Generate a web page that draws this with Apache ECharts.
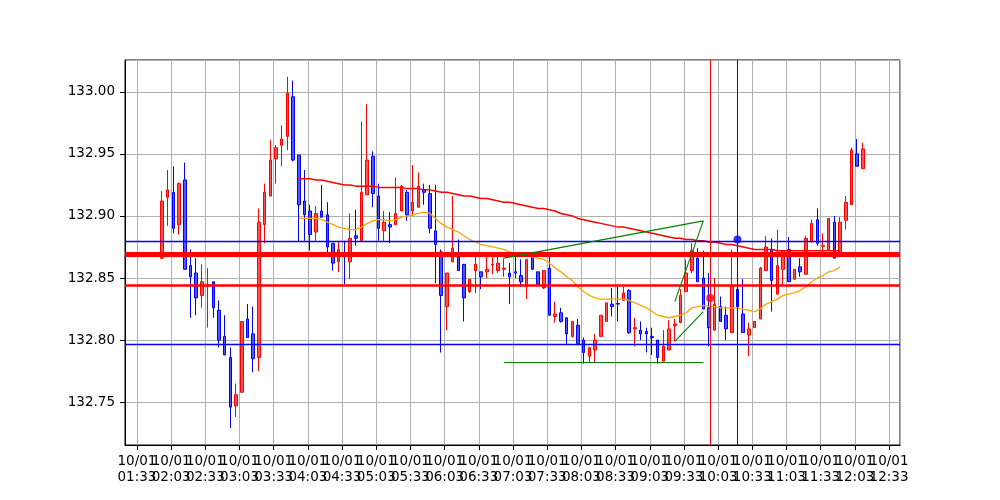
<!DOCTYPE html>
<html>
<head>
<meta charset="utf-8">
<script src="https://cdn.jsdelivr.net/npm/echarts@6/dist/echarts.min.js"></script>
<style>
  html, body { margin: 0; padding: 0; background: #fff; }
  #chart { width: 1000px; height: 500px; }
</style>
</head>
<body>
<div id="chart"></div>
<script>
// 5 minute candles, 10/01
const day = '10/01';
const firstCandle = '01:55';
const candleStep = 5;

const opens = [
  132.866, 132.915, 132.919, 132.893, 132.929, 132.860, 132.854, 132.836, 132.843, 132.847,
  132.824, 132.803, 132.786, 132.747, 132.758, 132.817, 132.805, 132.786, 132.893, 132.916,
  132.946, 132.957, 132.964, 132.996, 132.949, 132.912, 132.904, 132.887, 132.904, 132.901,
  132.878, 132.863, 132.870, 132.863, 132.884, 132.880, 132.917, 132.948, 132.916, 132.888,
  132.893, 132.893, 132.904, 132.919, 132.904, 132.907, 132.921, 132.918, 132.888, 132.871,
  132.827, 132.863, 132.867, 132.861, 132.839, 132.856, 132.855, 132.855, 132.8605, 132.856,
  132.857, 132.854, 132.855, 132.852, 132.843, 132.869, 132.855, 132.842, 132.858, 132.819,
  132.822, 132.818, 132.803, 132.812, 132.800, 132.787, 132.792, 132.803, 132.815, 132.829,
  132.8295, 132.832, 132.840, 132.809, 132.808, 132.807, 132.803, 132.800, 132.783, 132.792,
  132.8115, 132.814, 132.839, 132.856, 132.866, 132.850, 132.826, 132.808, 132.827, 132.820,
  132.806, 132.841, 132.821, 132.804, 132.810, 132.817, 132.856, 132.873, 132.837, 132.857,
  132.873, 132.849, 132.859, 132.853, 132.879, 132.897, 132.8755, 132.873, 132.895, 132.869,
  132.8965, 132.909, 132.950, 132.938
];
const closes = [
  132.912, 132.921, 132.890, 132.926, 132.857, 132.851, 132.834, 132.847, 132.845, 132.826,
  132.800, 132.788, 132.746, 132.756, 132.815, 132.802, 132.785, 132.895, 132.919, 132.945,
  132.955, 132.962, 132.999, 132.945, 132.909, 132.901, 132.885, 132.902, 132.899, 132.875,
  132.862, 132.873, 132.867, 132.882, 132.882, 132.919, 132.945, 132.918, 132.890, 132.895,
  132.891, 132.902, 132.924, 132.901, 132.911, 132.924, 132.919, 132.890, 132.877, 132.836,
  132.854, 132.874, 132.856, 132.834, 132.849, 132.861, 132.851, 132.857, 132.861, 132.862,
  132.858, 132.851, 132.854, 132.847, 132.865, 132.857, 132.845, 132.856, 132.820, 132.821,
  132.815, 132.805, 132.815, 132.797, 132.790, 132.794, 132.800, 132.820, 132.830, 132.827,
  132.829, 132.838, 132.806, 132.810, 132.805, 132.805, 132.802, 132.786, 132.795, 132.809,
  132.813, 132.836, 132.854, 132.872, 132.847, 132.825, 132.810, 132.829, 132.815, 132.809,
  132.843, 132.827, 132.806, 132.809, 132.815, 132.858, 132.875, 132.848, 132.860, 132.872,
  132.847, 132.857, 132.855, 132.882, 132.894, 132.878, 132.876, 132.898, 132.866, 132.895,
  132.911, 132.953, 132.940, 132.954
];
const lows = [
  132.865, 132.892, 132.886, 132.885, 132.857, 132.818, 132.820, 132.826, 132.810, 132.818,
  132.794, 132.788, 132.729, 132.738, 132.758, 132.802, 132.774, 132.775, 132.878, 132.916,
  132.926, 132.940, 132.953, 132.944, 132.879, 132.880, 132.872, 132.880, 132.899, 132.868,
  132.856, 132.855, 132.845, 132.849, 132.876, 132.880, 132.917, 132.907, 132.880, 132.880,
  132.878, 132.893, 132.904, 132.896, 132.900, 132.907, 132.909, 132.886, 132.846, 132.790,
  132.808, 132.863, 132.856, 132.815, 132.838, 132.838, 132.841, 132.850, 132.853, 132.854,
  132.851, 132.829, 132.850, 132.843, 132.833, 132.857, 132.845, 132.841, 132.820, 132.814,
  132.814, 132.797, 132.802, 132.797, 132.781, 132.782, 132.782, 132.803, 132.815, 132.819,
  132.815, 132.832, 132.805, 132.795, 132.800, 132.790, 132.788, 132.781, 132.783, 132.792,
  132.799, 132.814, 132.839, 132.854, 132.847, 132.825, 132.795, 132.808, 132.815, 132.800,
  132.806, 132.822, 132.806, 132.787, 132.810, 132.817, 132.856, 132.823, 132.837, 132.845,
  132.847, 132.849, 132.851, 132.853, 132.879, 132.876, 132.870, 132.873, 132.866, 132.869,
  132.889, 132.909, 132.940, 132.938
];
const highs = [
  132.920, 132.937, 132.940, 132.927, 132.943, 132.873, 132.866, 132.861, 132.858, 132.847,
  132.832, 132.820, 132.794, 132.765, 132.815, 132.829, 132.827, 132.906, 132.926, 132.961,
  132.957, 132.973, 133.012, 133.009, 132.949, 132.937, 132.909, 132.908, 132.925, 132.911,
  132.878, 132.880, 132.880, 132.902, 132.905, 132.976, 132.990, 132.952, 132.926, 132.904,
  132.903, 132.931, 132.925, 132.921, 132.941, 132.935, 132.926, 132.925, 132.925, 132.873,
  132.854, 132.916, 132.881, 132.861, 132.849, 132.868, 132.855, 132.868, 132.868, 132.868,
  132.866, 132.862, 132.869, 132.865, 132.865, 132.871, 132.855, 132.856, 132.867, 132.831,
  132.826, 132.818, 132.815, 132.817, 132.802, 132.794, 132.805, 132.820, 132.830, 132.842,
  132.843, 132.843, 132.841, 132.818, 132.815, 132.810, 132.810, 132.800, 132.808, 132.816,
  132.817, 132.841, 132.865, 132.878, 132.874, 132.872, 132.854, 132.850, 132.835, 132.827,
  132.873, 132.866, 132.849, 132.814, 132.815, 132.859, 132.884, 132.882, 132.889, 132.872,
  132.883, 132.857, 132.866, 132.884, 132.897, 132.906, 132.886, 132.898, 132.900, 132.899,
  132.916, 132.955, 132.962, 132.959
];

// moving averages, first value sits on candle index maStart
const maStart = 24;
const maSlow = [
  132.930, 132.930, 132.930, 132.929, 132.929, 132.928, 132.927, 132.926, 132.925, 132.925,
  132.924, 132.924, 132.924, 132.924, 132.923, 132.923, 132.923,
  132.923, 132.923, 132.922, 132.922, 132.922, 132.921, 132.921, 132.920, 132.919, 132.919,
  132.918, 132.917, 132.916, 132.916, 132.915, 132.914, 132.914, 132.913, 132.912, 132.911,
  132.911, 132.910,
  132.909, 132.908, 132.907, 132.906, 132.906, 132.905, 132.904, 132.902, 132.901, 132.900,
  132.898, 132.897, 132.896, 132.895, 132.894, 132.893, 132.892, 132.891, 132.891, 132.890,
  132.889, 132.888, 132.887,
  132.886, 132.885, 132.884, 132.883, 132.882, 132.882, 132.881, 132.881, 132.880, 132.880,
  132.879, 132.879, 132.878, 132.877, 132.877, 132.876, 132.875, 132.874, 132.873, 132.873,
  132.873, 132.873, 132.872,
  132.872, 132.872, 132.872, 132.872, 132.872, 132.872, 132.872, 132.872, 132.872, 132.872,
  132.872
];
const maFast = [
  132.898, 132.898, 132.898, 132.898, 132.897, 132.895, 132.893, 132.891, 132.890, 132.889,
  132.889, 132.891, 132.894, 132.896, 132.897, 132.897, 132.896,
  132.897, 132.899, 132.900, 132.901, 132.902, 132.903, 132.902, 132.898, 132.894, 132.891,
  132.889, 132.887, 132.884, 132.881, 132.879, 132.877, 132.876, 132.875, 132.874, 132.873,
  132.871, 132.870,
  132.869, 132.868, 132.867, 132.866, 132.865, 132.862, 132.858, 132.855, 132.851, 132.848,
  132.843, 132.839, 132.836, 132.834, 132.833, 132.833, 132.833, 132.833, 132.833, 132.832,
  132.830, 132.828, 132.826,
  132.823, 132.820, 132.819, 132.818, 132.819, 132.820, 132.822, 132.826, 132.827, 132.828,
  132.827, 132.827, 132.826, 132.826, 132.826, 132.826, 132.825, 132.824, 132.823, 132.825,
  132.829, 132.831, 132.833,
  132.836, 132.837, 132.838, 132.840, 132.843, 132.847, 132.850, 132.852, 132.855, 132.856,
  132.859
];

// horizontal levels
const levelThickRed = 132.8688;
const levelRed = 132.8445;
const levelBlueHigh = 132.8800;
const levelBlueLow = 132.7968;

// trend lines [time, price] pairs
const greenSegments = [
  [['06:55', 132.866], ['09:50', 132.896]],
  [['09:25', 132.831], ['09:50', 132.896]],
  [['09:25', 132.799], ['09:50', 132.823]],
  [['06:55', 132.782], ['09:50', 132.782]]
];

// markers
const redMark = ['09:56', 132.834];
const blueMark = ['10:20', 132.881];

// axis window (clock times) and price range
const xFrom = '01:22';
const xTo = '12:42';
const yMin = 132.7155;
const yMax = 133.0256;

// x values are minutes counted from 00:03 so the 30 min ticks fall on :03 / :33
const toX = t => {
  const [h, m] = t.split(':');
  return Number(h) * 60 + Number(m) - 3;
};
const pad = n => String(n).padStart(2, '0');
const fmtTime = v => {
  const mins = Math.round(v + 3);
  return pad(Math.floor(mins / 60)) + ':' + pad(mins % 60);
};

const times = opens.map((_, i) => fmtTime(toX(firstCandle) + i * candleStep));
const candleData = times.map((t, i) => [toX(t), opens[i], closes[i], lows[i], highs[i]]);
const slowData = maSlow.map((v, i) => [toX(times[maStart + i]), v]);
const fastData = maFast.map((v, i) => [toX(times[maStart + i]), v]);

const font = 'DejaVu Sans';

var chartDom = document.getElementById('chart');
var myChart = echarts.init(chartDom, null, { renderer: 'canvas' });

const hLine = (y, color, width) => ({
  yAxis: y,
  lineStyle: { color: color, width: width, type: 'solid' }
});
const vLine = (t, color, width) => ({
  xAxis: toX(t),
  lineStyle: { color: color, width: width, type: 'solid' }
});

var option = {
  animation: false,
  backgroundColor: '#fff',
  grid: {
    left: 125,
    right: 100,
    top: 60,
    bottom: 55,
    show: true,
    borderColor: '#000',
    borderWidth: 1,
    backgroundColor: '#fff'
  },
  xAxis: {
    type: 'value',
    min: toX(xFrom) + 0.5,
    max: toX(xTo) + 0.6,
    minInterval: 30,
    maxInterval: 30,
    splitNumber: 22,
    axisLine: { show: true, onZero: false, lineStyle: { color: '#000', width: 1 } },
    axisTick: { show: true, inside: false, length: 5, lineStyle: { color: '#000' } },
    axisLabel: {
      show: true,
      showMinLabel: false,
      showMaxLabel: false,
      margin: 8,
      color: '#000',
      fontFamily: font,
      fontSize: 13.5,
      lineHeight: 16,
      formatter: v => day + '\n' + fmtTime(v)
    },
    splitLine: { show: true, lineStyle: { color: '#b0b0b0', width: 1 } }
  },
  yAxis: {
    type: 'value',
    min: yMin,
    max: yMax,
    scale: true,
    minInterval: 0.05,
    maxInterval: 0.05,
    axisLine: { show: true, lineStyle: { color: '#000', width: 1 } },
    axisTick: { show: true, inside: false, length: 5, lineStyle: { color: '#000' } },
    axisLabel: {
      show: true,
      showMinLabel: false,
      showMaxLabel: false,
      margin: 10,
      color: '#000',
      fontFamily: font,
      fontSize: 13.5,
      formatter: v => v.toFixed(2)
    },
    splitLine: { show: true, lineStyle: { color: '#b0b0b0', width: 1 } }
  },
  series: [
    {
      name: 'candles',
      type: 'candlestick',
      data: candleData,
      encode: { x: 0, y: [1, 2, 3, 4] },
      barWidth: 3,
      z: 3,
      itemStyle: {
        color: 'rgba(255,40,40,0.8)',
        color0: 'rgba(40,40,255,0.8)',
        borderColor: '#ff0000',
        borderColor0: '#0000ff',
        borderWidth: 1
      }
    },
    {
      name: 'slow',
      type: 'line',
      data: slowData,
      showSymbol: false,
      z: 4,
      lineStyle: { color: '#ff0000', width: 1.5 }
    },
    {
      name: 'fast',
      type: 'line',
      data: fastData,
      showSymbol: false,
      z: 4,
      lineStyle: { color: '#ffa500', width: 1.3 }
    },
    ...greenSegments.map((seg, i) => ({
      name: 'trend' + i,
      type: 'line',
      data: seg.map(p => [toX(p[0]), p[1]]),
      showSymbol: false,
      z: 5,
      lineStyle: { color: '#008000', width: 1.1 }
    })),
    {
      name: 'levels',
      type: 'line',
      data: [],
      z: 6,
      markLine: {
        silent: true,
        precision: 4,
        symbol: ['none', 'none'],
        label: { show: false },
        animation: false,
        data: [
          hLine(levelThickRed, '#ff0000', 5),
          hLine(levelRed, '#ff0000', 2.5),
          hLine(levelBlueHigh, '#0000ff', 1.4),
          hLine(levelBlueLow, '#0000ff', 1.4),
          vLine(redMark[0], '#ff0000', 1),
          vLine(blueMark[0], '#0000ff', 1)
        ]
      }
    },
    {
      name: 'marks',
      type: 'scatter',
      z: 7,
      symbolSize: 8,
      data: [
        { value: [toX(redMark[0]), redMark[1]], itemStyle: { color: '#ff0000' } },
        { value: [toX(blueMark[0]), blueMark[1]], itemStyle: { color: '#0000ff' } }
      ]
    }
  ]
};

option && myChart.setOption(option);
</script>
</body>
</html>
